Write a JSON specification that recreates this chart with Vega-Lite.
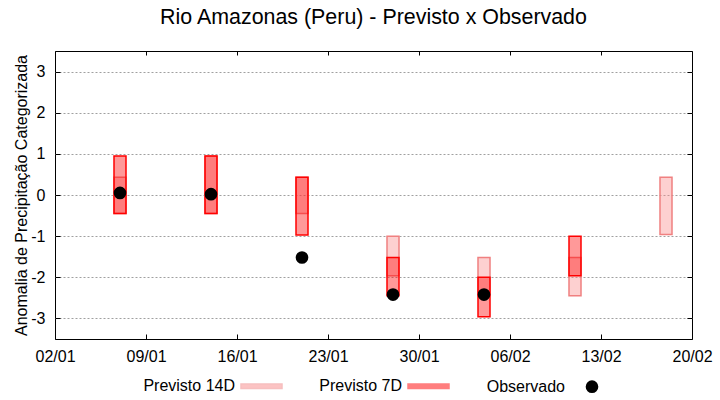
{
  "$schema": "https://vega.github.io/schema/vega-lite/v6.json",
  "width": 637,
  "height": 288,
  "autosize": {"type": "none"},
  "padding": {"left": 55, "top": 51, "right": 28, "bottom": 61},
  "background": "white",
  "title": {
    "text": "Rio Amazonas (Peru) - Previsto x Observado",
    "font": "Liberation Sans",
    "fontSize": 21.4,
    "fontWeight": "normal",
    "color": "black",
    "anchor": "middle",
    "offset": 22
  },
  "config": {
    "font": "Liberation Sans",
    "view": {"stroke": "black", "strokeWidth": 1},
    "axis": {
      "labelFont": "Liberation Sans",
      "labelFontSize": 16,
      "labelColor": "black",
      "titleFont": "Liberation Sans",
      "titleFontSize": 16,
      "titleFontWeight": "normal",
      "titleColor": "black",
      "tickColor": "black",
      "tickSize": -5,
      "domain": false
    },
    "legend": {
      "labelFont": "Liberation Sans",
      "labelFontSize": 16,
      "labelColor": "black",
      "padding": 0
    }
  },
  "datasets": {
    "previsto": [
      {"date": "2024-01-07T00:00:00Z", "serie": "Previsto 14D", "lo": -0.45, "hi": 0.43},
      {"date": "2024-01-14T00:00:00Z", "serie": "Previsto 14D", "lo": -0.45, "hi": 0.95},
      {"date": "2024-01-21T00:00:00Z", "serie": "Previsto 14D", "lo": -0.45, "hi": 0.43},
      {"date": "2024-01-28T00:00:00Z", "serie": "Previsto 14D", "lo": -1.96, "hi": -1.0},
      {"date": "2024-02-04T00:00:00Z", "serie": "Previsto 14D", "lo": -2.45, "hi": -1.52},
      {"date": "2024-02-11T00:00:00Z", "serie": "Previsto 14D", "lo": -2.45, "hi": -1.52},
      {"date": "2024-02-18T00:00:00Z", "serie": "Previsto 14D", "lo": -0.96, "hi": 0.43},
      {"date": "2024-01-07T00:00:00Z", "serie": "Previsto 7D", "lo": -0.45, "hi": 0.95},
      {"date": "2024-01-14T00:00:00Z", "serie": "Previsto 7D", "lo": -0.45, "hi": 0.95},
      {"date": "2024-01-21T00:00:00Z", "serie": "Previsto 7D", "lo": -0.97, "hi": 0.43},
      {"date": "2024-01-28T00:00:00Z", "serie": "Previsto 7D", "lo": -2.45, "hi": -1.52},
      {"date": "2024-02-04T00:00:00Z", "serie": "Previsto 7D", "lo": -2.96, "hi": -2.0},
      {"date": "2024-02-11T00:00:00Z", "serie": "Previsto 7D", "lo": -1.96, "hi": -1.0}
    ],
    "observado": [
      {"date": "2024-01-07T00:00:00Z", "serie": "Observado", "valor": 0.05},
      {"date": "2024-01-14T00:00:00Z", "serie": "Observado", "valor": 0.02},
      {"date": "2024-01-21T00:00:00Z", "serie": "Observado", "valor": -1.52},
      {"date": "2024-01-28T00:00:00Z", "serie": "Observado", "valor": -2.42},
      {"date": "2024-02-04T00:00:00Z", "serie": "Observado", "valor": -2.42}
    ]
  },
  "resolve": {"axis": {"x": "independent", "y": "independent"}},
  "layer": [
    {
      "data": {"name": "previsto"},
      "mark": {"type": "bar", "width": 12, "fillOpacity": 0.4, "strokeWidth": 1.5},
      "encoding": {
        "x": {
          "field": "date",
          "type": "temporal",
          "scale": {
            "type": "utc",
            "padding": 0,
            "domain": [
              {"year": 2024, "month": 1, "date": 2, "utc": true},
              {"year": 2024, "month": 2, "date": 20, "utc": true}
            ]
          },
          "axis": {
            "orient": "bottom",
            "title": null,
            "format": "%d/%m",
            "grid": false,
            "labelFlush": false,
            "labelOverlap": false,
            "labelBound": false,
            "labelPadding": 14,
            "values": [
              {"year": 2024, "month": 1, "date": 2, "utc": true},
              {"year": 2024, "month": 1, "date": 9, "utc": true},
              {"year": 2024, "month": 1, "date": 16, "utc": true},
              {"year": 2024, "month": 1, "date": 23, "utc": true},
              {"year": 2024, "month": 1, "date": 30, "utc": true},
              {"year": 2024, "month": 2, "date": 6, "utc": true},
              {"year": 2024, "month": 2, "date": 13, "utc": true},
              {"year": 2024, "month": 2, "date": 20, "utc": true}
            ]
          }
        },
        "y": {
          "field": "lo",
          "type": "quantitative",
          "scale": {"domain": [-3.5, 3.5], "nice": false, "zero": false, "padding": 0},
          "axis": {
            "orient": "left",
            "title": "Anomalia de Precipitação Categorizada",
            "values": [-3, -2, -1, 0, 1, 2, 3],
            "labelExpr": "'' + datum.value",
            "labelPadding": 15,
            "titlePadding": 1,
            "grid": true,
            "gridColor": "#a0a0a0",
            "gridDash": [2, 2],
            "gridWidth": 1
          }
        },
        "y2": {"field": "hi"},
        "fill": {
          "field": "serie",
          "type": "nominal",
          "scale": {
            "domain": ["Previsto 14D", "Previsto 7D"],
            "range": ["#fa8989", "#ff0000"]
          },
          "legend": {
            "title": null,
            "orient": "none",
            "direction": "horizontal",
            "legendX": 185,
            "legendY": 313.5,
            "columnPadding": 34,
            "symbolType": "M-1,-0.11H1V0.11H-1Z",
            "symbolSize": 1681,
            "symbolStrokeWidth": 1.5,
            "symbolOpacity": 0.5,
            "labelAlign": "right",
            "labelOffset": -48
          }
        },
        "stroke": {
          "field": "serie",
          "type": "nominal",
          "scale": {
            "domain": ["Previsto 14D", "Previsto 7D"],
            "range": ["#f08080", "#ff0000"]
          },
          "legend": {
            "title": null,
            "orient": "none",
            "direction": "horizontal",
            "legendX": 185,
            "legendY": 313.5,
            "columnPadding": 34,
            "symbolType": "M-1,-0.11H1V0.11H-1Z",
            "symbolSize": 1681,
            "symbolStrokeWidth": 1.5,
            "symbolOpacity": 0.5,
            "labelAlign": "right",
            "labelOffset": -48
          }
        }
      }
    },
    {
      "data": {"name": "observado"},
      "mark": {"type": "point", "filled": true, "size": 160, "opacity": 1},
      "encoding": {
        "x": {
          "field": "date",
          "type": "temporal",
          "axis": {
            "orient": "top",
            "title": null,
            "labels": false,
            "grid": false,
            "tickSize": -4,
            "values": [
              {"year": 2024, "month": 1, "date": 2, "utc": true},
              {"year": 2024, "month": 1, "date": 9, "utc": true},
              {"year": 2024, "month": 1, "date": 16, "utc": true},
              {"year": 2024, "month": 1, "date": 23, "utc": true},
              {"year": 2024, "month": 1, "date": 30, "utc": true},
              {"year": 2024, "month": 2, "date": 6, "utc": true},
              {"year": 2024, "month": 2, "date": 13, "utc": true},
              {"year": 2024, "month": 2, "date": 20, "utc": true}
            ]
          }
        },
        "y": {
          "field": "valor",
          "type": "quantitative",
          "axis": {
            "orient": "right",
            "title": null,
            "labels": false,
            "grid": false,
            "values": [-3, -2, -1, 0, 1, 2, 3]
          }
        },
        "color": {
          "field": "serie",
          "type": "nominal",
          "scale": {"domain": ["Observado"], "range": ["#000000"]},
          "legend": {
            "title": null,
            "orient": "none",
            "legendX": 529,
            "legendY": 327.7,
            "symbolType": "circle",
            "symbolSize": 160,
            "symbolOpacity": 1,
            "labelAlign": "right",
            "labelOffset": -35
          }
        }
      }
    }
  ]
}
